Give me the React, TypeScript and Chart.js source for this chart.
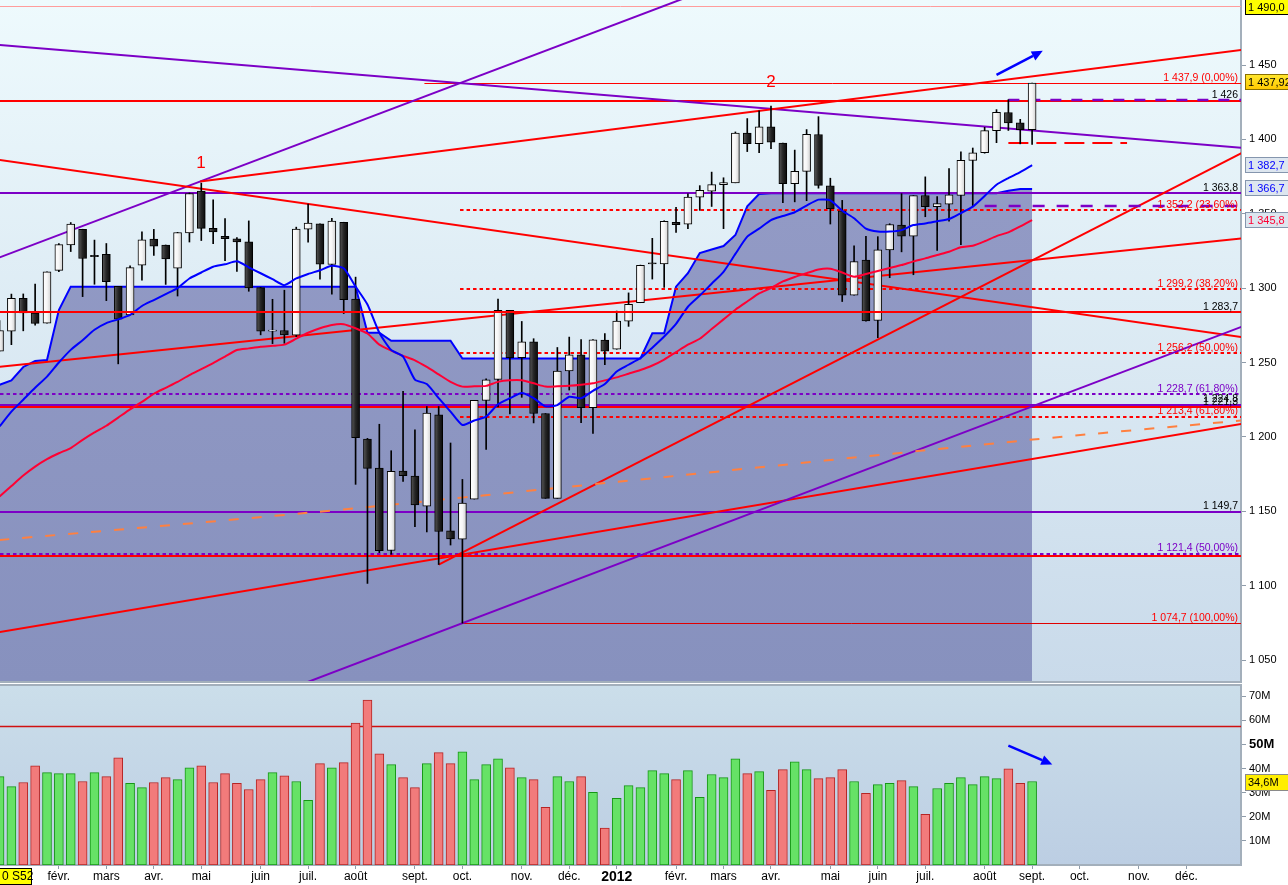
import React, { useEffect, useRef } from 'react';
import { Chart, registerables } from 'chart.js';

Chart.register(...registerables);

const FONT = '"Liberation Sans", Arial, Helvetica, sans-serif';

// Weekly candles: index 0 = week of 3 Jan 2011 ... index 87 = week of 4 Sep 2012
const opens = [1257.6, 1271.0, 1293.2, 1283.3, 1276.5, 1311.9, 1329.0, 1339.6, 1322.0, 1322.7,
  1301.2, 1282.0, 1315.5, 1333.0, 1329.0, 1313.5, 1337.1, 1365.2, 1340.2, 1334.8,
  1333.1, 1331.1, 1300.3, 1271.3, 1271.5, 1268.4, 1339.6, 1343.3, 1315.9, 1344.3,
  1292.6, 1198.5, 1179.0, 1123.6, 1177.0, 1173.6, 1153.5, 1214.9, 1136.9, 1131.2,
  1158.2, 1224.5, 1238.7, 1285.0, 1253.2, 1263.9, 1215.7, 1158.7, 1244.3, 1255.2,
  1219.7, 1265.0, 1258.9, 1277.8, 1290.2, 1317.0, 1316.2, 1344.3, 1343.0, 1361.2,
  1365.2, 1369.6, 1370.8, 1404.2, 1397.1, 1408.5, 1397.5, 1370.3, 1378.5, 1403.3,
  1368.8, 1351.9, 1295.2, 1318.9, 1278.3, 1325.7, 1342.4, 1334.9, 1362.3, 1354.7,
  1356.5, 1362.3, 1385.8, 1391.0, 1405.9, 1418.1, 1411.1, 1406.5];
const highs = [1278.2, 1296.0, 1296.1, 1302.7, 1311.0, 1330.0, 1344.1, 1339.6, 1332.3, 1330.0,
  1301.2, 1315.0, 1337.9, 1339.5, 1329.0, 1337.5, 1364.0, 1370.6, 1359.4, 1346.8,
  1334.0, 1345.2, 1300.6, 1292.5, 1298.6, 1341.0, 1356.5, 1343.3, 1347.0, 1344.3,
  1307.4, 1199.0, 1208.5, 1190.7, 1230.7, 1204.7, 1220.4, 1220.4, 1195.9, 1171.4,
  1224.6, 1239.0, 1292.7, 1285.0, 1277.6, 1266.0, 1215.7, 1260.1, 1267.1, 1265.4,
  1265.4, 1269.4, 1284.6, 1296.8, 1315.5, 1333.5, 1345.3, 1354.3, 1363.4, 1368.9,
  1378.0, 1374.2, 1405.0, 1414.0, 1419.2, 1422.4, 1397.5, 1392.8, 1406.6, 1415.3,
  1373.9, 1359.0, 1328.5, 1334.9, 1334.6, 1343.3, 1363.5, 1362.2, 1374.8, 1361.5,
  1380.4, 1391.7, 1394.2, 1408.1, 1420.0, 1426.7, 1413.5, 1437.9];
const lows = [1257.6, 1262.0, 1271.3, 1275.1, 1276.5, 1311.0, 1324.6, 1294.3, 1302.6, 1291.6,
  1249.1, 1282.0, 1305.3, 1322.0, 1302.5, 1294.7, 1331.0, 1332.0, 1329.9, 1318.5,
  1311.3, 1297.9, 1268.6, 1262.7, 1262.9, 1267.4, 1330.9, 1306.1, 1295.9, 1282.9,
  1168.1, 1101.5, 1122.2, 1121.1, 1170.0, 1139.6, 1136.1, 1114.2, 1127.3, 1074.8,
  1158.2, 1191.5, 1220.2, 1215.4, 1226.6, 1209.4, 1158.7, 1158.7, 1231.5, 1209.5,
  1202.4, 1248.6, 1258.9, 1274.3, 1290.2, 1306.1, 1300.5, 1337.5, 1340.0, 1352.3,
  1354.9, 1340.0, 1370.8, 1391.8, 1391.0, 1393.7, 1357.4, 1358.0, 1358.8, 1367.2,
  1343.1, 1291.0, 1295.2, 1277.8, 1266.7, 1307.0, 1324.4, 1309.0, 1348.0, 1325.4,
  1345.1, 1329.2, 1354.7, 1390.7, 1397.8, 1406.0, 1397.0, 1396.6];
const closes = [1271.5, 1293.2, 1283.4, 1276.3, 1310.9, 1329.2, 1343.0, 1319.9, 1321.2, 1304.3,
  1279.2, 1313.8, 1332.4, 1328.2, 1319.7, 1337.4, 1363.6, 1340.2, 1337.8, 1333.3,
  1331.1, 1300.2, 1271.0, 1271.5, 1268.5, 1339.7, 1343.8, 1316.1, 1345.0, 1292.3,
  1199.4, 1178.8, 1123.5, 1176.8, 1174.0, 1154.2, 1216.0, 1136.4, 1131.4, 1155.5,
  1224.6, 1238.3, 1285.1, 1253.2, 1263.9, 1215.7, 1158.7, 1244.3, 1255.2, 1219.7,
  1265.3, 1257.6, 1277.8, 1289.1, 1315.4, 1316.3, 1344.9, 1342.6, 1361.2, 1365.7,
  1369.6, 1370.9, 1404.2, 1397.1, 1408.5, 1398.1, 1370.3, 1378.5, 1403.4, 1369.1,
  1353.4, 1295.2, 1317.8, 1278.0, 1325.7, 1342.8, 1335.0, 1362.2, 1354.7, 1356.8,
  1362.7, 1386.0, 1391.0, 1405.9, 1418.2, 1411.1, 1406.6, 1437.9];
// weekly volume, millions
const volumesM = [36.6, 32.5, 34.2, 41.1, 38.3, 37.9, 37.9, 34.6, 38.3, 36.6,
  44.4, 33.8, 32.1, 34.2, 36.2, 35.4, 40.3, 41.1, 34.2, 37.9,
  33.8, 31.3, 35.4, 38.3, 37.0, 34.6, 26.8, 42.0, 40.3, 42.4,
  58.8, 68.3, 46.1, 41.6, 36.2, 32.1, 42.0, 46.6, 42.0, 46.9,
  35.4, 41.6, 44.0, 40.3, 36.2, 35.4, 23.9, 36.6, 34.6, 36.6,
  30.1, 15.3, 27.6, 32.9, 32.1, 39.1, 37.9, 35.4, 39.1, 28.0,
  37.5, 36.2, 44.0, 37.9, 38.7, 30.9, 39.5, 42.8, 39.5, 35.8,
  36.2, 39.5, 34.6, 29.7, 33.3, 33.8, 35.0, 32.5, 21.0, 31.7,
  33.8, 36.2, 33.3, 36.6, 35.8, 39.9, 33.8, 34.6];
// stepped blue line with shaded area below it
const blueStep = [1235, 1238, 1247, 1251, 1251.7, 1285.3, 1301, 1301, 1301, 1301,
  1301, 1301, 1301, 1301, 1301, 1301, 1301, 1301, 1301, 1301,
  1301, 1301, 1301, 1301, 1301, 1301, 1301, 1301, 1301, 1301,
  1301, 1270, 1270, 1264.6, 1264.6, 1264.6, 1264.6, 1264.6, 1264.6, 1252.7,
  1252.7, 1252.7, 1252.7, 1252.7, 1252.7, 1252.7, 1252.7, 1252.7, 1252.7, 1252.7,
  1252.7, 1252.7, 1252.7, 1252.7, 1252.7, 1269.7, 1269.7, 1301, 1310, 1323.6,
  1326, 1328.3, 1335.7, 1355, 1363.3, 1363.8, 1363.8, 1363.8, 1363.8, 1363.8,
  1363.8, 1363.8, 1363.8, 1363.8, 1363.8, 1363.8, 1363.8, 1363.8, 1363.8, 1363.8,
  1363.8, 1363.8, 1363.8, 1363.8, 1363.8, 1365.5, 1366.7, 1366.7];
const blueMA = [1207, 1217, 1225, 1233, 1240.5, 1250, 1258.5, 1265, 1272, 1276.5,
  1279, 1282, 1288, 1292, 1296, 1300, 1306.5, 1310.5, 1314.4, 1316,
  1318, 1314, 1310, 1306, 1302, 1306.5, 1309.5, 1312, 1315, 1313.3,
  1301, 1289, 1270, 1258.4, 1254, 1238.5, 1235.5, 1226, 1217, 1208,
  1211, 1213.6, 1222, 1226, 1229.5, 1226, 1220.5, 1221.4, 1227, 1226,
  1231, 1235.5, 1244, 1248.5, 1253, 1260, 1267.5, 1276, 1287.5, 1295,
  1303, 1311, 1323, 1334.6, 1340, 1345.8, 1348.5, 1351, 1355.5, 1359.5,
  1359, 1352, 1347, 1340, 1338, 1338, 1339, 1342.4, 1343.5, 1345,
  1346.5, 1350.5, 1354.8, 1362, 1369.5, 1374, 1378, 1382.7];
const redMA = [1160, 1167, 1174, 1180, 1185, 1189, 1192.5, 1198, 1203, 1207.5,
  1213, 1218.5, 1223.5, 1229, 1233, 1237, 1241.5, 1245.5, 1249.6, 1254,
  1258.4, 1259.5, 1260.6, 1261.2, 1262, 1266, 1270, 1273, 1275.2, 1275.7,
  1273, 1269.5, 1262, 1258, 1254.5, 1251.5, 1247, 1242, 1237, 1233.8,
  1234, 1234.3, 1237, 1238, 1238, 1236, 1233.8, 1234, 1234.3, 1235,
  1236, 1238, 1240, 1242.5, 1245, 1248, 1252, 1257, 1262, 1266,
  1272.5, 1279, 1285.5, 1291, 1296.4, 1300, 1304.5, 1307.5, 1310, 1312.5,
  1313, 1310.5, 1307.7, 1309.5, 1311.5, 1313.5, 1315.5, 1318, 1320, 1322.3,
  1324.5, 1327.5, 1328.5, 1331.5, 1335, 1337.5, 1341.5, 1345.8];
// orange dashed long average (week, value)
const orangeWeeks = [0, 26, 52.3, 86.8, 104.6];
const orangeValues = [1130.7, 1149, 1170, 1198, 1211];

// axis ticks
const priceTicks = [1050, 1100, 1150, 1200, 1250, 1300, 1350, 1400, 1450];
const volumeTicks = [10, 20, 30, 40, 50, 60, 70];
const monthTickWeeks = [5, 9, 13, 17, 22, 26, 30, 35, 39, 44, 48, 52, 57, 61, 65, 70, 74, 78, 83, 87, 91, 96, 100];
const monthTickLabels = ['févr.', 'mars', 'avr.', 'mai', 'juin', 'juil.', 'août', 'sept.', 'oct.', 'nov.', 'déc.', '2012',
  'févr.', 'mars', 'avr.', 'mai', 'juin', 'juil.', 'août', 'sept.', 'oct.', 'nov.', 'déc.'];

// horizontal levels
const levelValues = [1490.0, 1437.9, 1426.0, 1363.8, 1352.2, 1299.2, 1283.7, 1256.2, 1228.7, 1221.6, 1219.9, 1213.4, 1149.7, 1121.4, 1119.9, 1074.7];
const levelTexts = ['', '1 437,9 (0,00%)', '1 426', '1 363,8', '1 352,2 (23,60%)', '1 299,2 (38,20%)', '1 283,7',
  '1 256,2 (50,00%)', '1 228,7 (61,80%)', '1 224,8', '1 221,3', '1 213,4 (61,80%)', '1 149,7', '1 121,4 (50,00%)', '', '1 074,7 (100,00%)'];
const levelStartWeeks = [null, 35.8, null, null, 38.8, 38.8, null, 38.8, null, null, null, 38.8, null, null, null, 39.0];

// trend lines (week, price)
const trendFrom = [[0.04, 1320.8], [0.04, 1463.4], [16.9, 1371.7], [0.04, 1386.1], [0.04, 1247.2], [37, 1114.2], [0.04, 1068.8], [39, 1074.8]];
const trendTo = [[57.3, 1493.7], [104.6, 1394.4], [104.6, 1460.1], [104.6, 1267.1], [104.6, 1333.4], [104.6, 1390.6], [104.6, 1208.7], [104.6, 1273.9]];

// short dashed segments
const shortDashValues = [1426.5, 1355.0, 1397.8];
const shortDashFrom = [85, 83, 85];
const shortDashTo = [104.6, 104.6, 95];

const priceArrowFrom = [84.0, 1443.3];
const priceArrowTo = [87.9, 1459.5];
const volArrowFrom = [85.0, 49.5];
const volArrowTo = [88.7, 41.7];

const peakTexts = ['1', '2'];
const peakWeeks = [16.98, 65];
const peakValues = [1384.1, 1438.6];

const priceBoxValues = [1490.0, 1437.92, 1382.7, 1366.7, 1345.8];
const priceBoxTexts = ['1 490,0', '1 437,92', '1 382,7', '1 366,7', '1 345,8'];
const volumeRefLine = 57.7;
const lastVolumeText = '34,6M';
const cornerText = '0 S52';

// ranges
const X_MIN = 0.04, X_MAX = 104.6;
const P_MIN = 1035.9, P_MAX = 1493.7;
const V_MAX = 74.6;

// styles
const RED = '#ff0000';
const PURPLE = '#7c00c6';
const BLACK = '#000000';
const levelStyles = [
  { color: '#ff9c9c', width: 1, dash: [], text: RED, top: false },
  { color: RED, width: 1, dash: [], text: RED, top: false },
  { color: RED, width: 2, dash: [], text: BLACK, top: false },
  { color: PURPLE, width: 2, dash: [], text: BLACK, top: false },
  { color: RED, width: 2, dash: [3.5, 3], text: RED, top: false },
  { color: RED, width: 2, dash: [3.5, 3], text: RED, top: false },
  { color: RED, width: 2, dash: [], text: BLACK, top: true },
  { color: RED, width: 2, dash: [3.5, 3], text: RED, top: false },
  { color: PURPLE, width: 2, dash: [3.5, 3], text: PURPLE, top: false },
  { color: PURPLE, width: 2, dash: [], text: BLACK, top: false },
  { color: RED, width: 2, dash: [], text: BLACK, top: false },
  { color: RED, width: 2, dash: [3.5, 3], text: RED, top: false },
  { color: PURPLE, width: 2, dash: [], text: BLACK, top: false },
  { color: PURPLE, width: 2, dash: [3.5, 3], text: PURPLE, top: false },
  { color: RED, width: 2, dash: [], text: BLACK, top: false },
  { color: '#e00000', width: 1, dash: [], text: RED, top: false },
];
const trendStyles = [
  { color: PURPLE, ray: false }, { color: PURPLE, ray: false }, { color: RED, ray: true }, { color: RED, ray: false },
  { color: RED, ray: false }, { color: RED, ray: true }, { color: RED, ray: false }, { color: PURPLE, ray: false },
];
const shortDashStyles = [
  { color: PURPLE, width: 2.5, dash: [11, 10] },
  { color: PURPLE, width: 2.5, dash: [12, 12] },
  { color: RED, width: 2, dash: [20, 8] },
];
const priceBoxStyles = [
  { bg: '#ffff00', border: '#000000', color: '#000000' },
  { bg: 'gold', border: '#8a7000', color: '#000000' },
  { bg: '#dde6ef', border: '#8596ae', color: '#0000ff' },
  { bg: '#dde6ef', border: '#8596ae', color: '#0000ff' },
  { bg: '#dde6ef', border: '#8596ae', color: '#ff0033' },
];
const AXIS_LINE = '#a3afbb';

function fmtPrice(v: number) {
  const t = Math.floor(v / 1000);
  const r = Math.round(v - t * 1000);
  return t + ' ' + String(r).padStart(3, '0');
}

function drawArrow(ctx: CanvasRenderingContext2D, x1: number, y1: number, x2: number, y2: number, color: string) {
  const ang = Math.atan2(y2 - y1, x2 - x1);
  const head = 11, hw = 5;
  const bx = x2 - head * Math.cos(ang), by = y2 - head * Math.sin(ang);
  ctx.save();
  ctx.strokeStyle = color;
  ctx.lineWidth = 2.5;
  ctx.beginPath();
  ctx.moveTo(x1, y1);
  ctx.lineTo(bx, by);
  ctx.stroke();
  ctx.fillStyle = color;
  ctx.beginPath();
  ctx.moveTo(x2, y2);
  ctx.lineTo(bx + hw * Math.sin(ang), by - hw * Math.cos(ang));
  ctx.lineTo(bx - hw * Math.sin(ang), by + hw * Math.cos(ang));
  ctx.closePath();
  ctx.fill();
  ctx.restore();
}

function drawBox(ctx: CanvasRenderingContext2D, x: number, yc: number, w: number, h: number, bg: any, border: string, text: string, color: string, font: string) {
  ctx.save();
  const top = Math.round(yc - h / 2) + 0.5;
  ctx.fillStyle = bg;
  ctx.fillRect(x + 0.5, top, w, h);
  ctx.strokeStyle = border;
  ctx.lineWidth = 1;
  ctx.strokeRect(x + 0.5, top, w, h);
  ctx.fillStyle = color;
  ctx.font = font;
  ctx.textAlign = 'left';
  ctx.textBaseline = 'middle';
  ctx.fillText(text, x + 3, top + h / 2 + 0.5);
  ctx.restore();
}

function clipArea(chart: any) {
  const a = chart.chartArea;
  const ctx = chart.ctx;
  ctx.beginPath();
  ctx.rect(a.left, a.top, a.right - a.left, a.bottom - a.top);
  ctx.clip();
}

function drawLevels(chart: any, topLayer: boolean) {
  const ctx = chart.ctx;
  const xs = chart.scales.x, ys = chart.scales.y;
  const a = chart.chartArea;
  ctx.save();
  clipArea(chart);
  levelValues.forEach((v, i) => {
    const st = levelStyles[i];
    if (!!st.top !== topLayer) return;
    const y0 = ys.getPixelForValue(v);
    const y = st.width % 2 === 1 ? Math.round(y0) + 0.5 : Math.round(y0);
    const start = levelStartWeeks[i];
    const xStart = start === null ? a.left : xs.getPixelForValue(start);
    ctx.strokeStyle = st.color;
    ctx.lineWidth = st.width;
    ctx.setLineDash(st.dash);
    ctx.beginPath();
    ctx.moveTo(xStart, y);
    ctx.lineTo(a.right, y);
    ctx.stroke();
  });
  ctx.restore();
}

function drawLevelLabels(chart: any) {
  const ctx = chart.ctx;
  const ys = chart.scales.y;
  const a = chart.chartArea;
  ctx.save();
  ctx.font = '10.5px ' + FONT;
  ctx.textAlign = 'right';
  ctx.textBaseline = 'alphabetic';
  levelValues.forEach((v, i) => {
    const t = levelTexts[i];
    if (!t) return;
    const y = ys.getPixelForValue(v);
    ctx.fillStyle = levelStyles[i].text;
    ctx.fillText(t, a.right - 3, y - 2.5);
  });
  ctx.restore();
}

function drawTrends(chart: any) {
  const ctx = chart.ctx;
  const xs = chart.scales.x, ys = chart.scales.y;
  ctx.save();
  clipArea(chart);
  ctx.lineWidth = 2;
  trendFrom.forEach((p1, i) => {
    const p2 = trendTo[i];
    const st = trendStyles[i];
    const m = (p2[1] - p1[1]) / (p2[0] - p1[0]);
    const xa = st.ray ? p1[0] : X_MIN - 5;
    const xb = X_MAX + 5;
    const ya = p1[1] + m * (xa - p1[0]);
    const yb = p1[1] + m * (xb - p1[0]);
    ctx.strokeStyle = st.color;
    ctx.beginPath();
    ctx.moveTo(xs.getPixelForValue(xa), ys.getPixelForValue(ya));
    ctx.lineTo(xs.getPixelForValue(xb), ys.getPixelForValue(yb));
    ctx.stroke();
  });
  shortDashValues.forEach((v, i) => {
    const st = shortDashStyles[i];
    const y = Math.round(ys.getPixelForValue(v));
    ctx.strokeStyle = st.color;
    ctx.lineWidth = st.width;
    ctx.setLineDash(st.dash);
    ctx.beginPath();
    ctx.moveTo(xs.getPixelForValue(shortDashFrom[i]), y);
    ctx.lineTo(xs.getPixelForValue(shortDashTo[i]), y);
    ctx.stroke();
  });
  ctx.setLineDash([]);
  ctx.restore();
}

const pricePlugin = {
  id: 'priceOverlay',
  beforeDraw(chart: any) {
    const { ctx, chartArea: a } = chart;
    ctx.save();
    const g = ctx.createLinearGradient(0, a.top, 0, a.bottom);
    g.addColorStop(0, '#eefafd');
    g.addColorStop(1, '#c9daea');
    ctx.fillStyle = g;
    ctx.fillRect(a.left, a.top, a.right - a.left, a.bottom - a.top);
    ctx.restore();
  },
  afterDatasetDraw(chart: any, args: any) {
    if (args.index === 0) {
      drawLevels(chart, false);
      drawTrends(chart);
    }
  },
  afterDatasetsDraw(chart: any) {
    const ctx = chart.ctx;
    const xs = chart.scales.x, ys = chart.scales.y;
    drawLevels(chart, true);
    drawLevelLabels(chart);
    ctx.save();
    clipArea(chart);
    drawArrow(ctx, xs.getPixelForValue(priceArrowFrom[0]), ys.getPixelForValue(priceArrowFrom[1]),
      xs.getPixelForValue(priceArrowTo[0]), ys.getPixelForValue(priceArrowTo[1]), '#0000ff');
    ctx.fillStyle = RED;
    ctx.font = '17px ' + FONT;
    ctx.textAlign = 'center';
    ctx.textBaseline = 'middle';
    peakTexts.forEach((t, i) => {
      ctx.fillText(t, xs.getPixelForValue(peakWeeks[i]), ys.getPixelForValue(peakValues[i]));
    });
    ctx.restore();
  },
  afterDraw(chart: any) {
    const ctx = chart.ctx;
    const a = chart.chartArea;
    const ys = chart.scales.y;
    ctx.save();
    ctx.strokeStyle = AXIS_LINE;
    ctx.lineWidth = 2;
    ctx.beginPath();
    ctx.moveTo(a.left, a.bottom + 1);
    ctx.lineTo(a.right + 1, a.bottom + 1);
    ctx.stroke();
    ctx.restore();
    priceBoxValues.forEach((v, i) => {
      const st = priceBoxStyles[i];
      const yc = ys.getPixelForValue(v) - 1;
      let bg: any = st.bg;
      if (st.bg === 'gold') {
        const g = ctx.createLinearGradient(0, yc - 8, 0, yc + 8);
        g.addColorStop(0, '#ffe830');
        g.addColorStop(1, '#ffc800');
        bg = g;
      }
      drawBox(ctx, a.right + 4, Math.max(yc, 6), 50, 15, bg, st.border, priceBoxTexts[i], st.color, '11px ' + FONT);
    });
  },
};

const volumePlugin = {
  id: 'volumeOverlay',
  beforeDraw(chart: any) {
    const { ctx, chartArea: a } = chart;
    ctx.save();
    const g = ctx.createLinearGradient(0, a.top, 0, a.bottom);
    g.addColorStop(0, '#cbdeea');
    g.addColorStop(1, '#bccee3');
    ctx.fillStyle = g;
    ctx.fillRect(a.left, a.top, a.right - a.left, a.bottom - a.top);
    ctx.strokeStyle = AXIS_LINE;
    ctx.lineWidth = 2;
    ctx.beginPath();
    ctx.moveTo(a.left, a.top);
    ctx.lineTo(a.right, a.top);
    ctx.stroke();
    ctx.restore();
  },
  beforeDatasetsDraw(chart: any) {
    const { ctx, chartArea: a } = chart;
    const ys = chart.scales.y;
    const y = Math.round(ys.getPixelForValue(volumeRefLine)) + 0.5;
    ctx.save();
    ctx.strokeStyle = '#d01010';
    ctx.lineWidth = 1.5;
    ctx.beginPath();
    ctx.moveTo(a.left, y);
    ctx.lineTo(a.right, y);
    ctx.stroke();
    ctx.restore();
  },
  afterDatasetsDraw(chart: any) {
    const ctx = chart.ctx;
    const xs = chart.scales.x, ys = chart.scales.y;
    drawArrow(ctx, xs.getPixelForValue(volArrowFrom[0]), ys.getPixelForValue(volArrowFrom[1]),
      xs.getPixelForValue(volArrowTo[0]), ys.getPixelForValue(volArrowTo[1]), '#0000ff');
  },
  afterDraw(chart: any) {
    const ctx = chart.ctx;
    const a = chart.chartArea;
    const ys = chart.scales.y;
    const last = volumesM[volumesM.length - 1];
    drawBox(ctx, a.right + 4, ys.getPixelForValue(last), 46, 16, '#ffee00', '#8a8a8a', lastVolumeText, '#000', '11px ' + FONT);
    drawBox(ctx, -1, a.bottom + 11, 32, 16, '#ffff00', '#000', cornerText, '#000', '12px ' + FONT);
  },
};

export default function App() {
  const priceRef = useRef<HTMLCanvasElement>(null);
  const volRef = useRef<HTMLCanvasElement>(null);

  useEffect(() => {
    Chart.defaults.font.family = FONT;
    Chart.defaults.color = '#000';

    const candleBodies = opens.map((o, i) => {
      const c = closes[i];
      if (Math.abs(o - c) < 0.7) {
        const m = (o + c) / 2;
        return { x: i, y: [m - 0.35, m + 0.35] };
      }
      return { x: i, y: [o, c] };
    });
    const wicks = lows.map((l, i) => ({ x: i, y: [l, highs[i]] }));

    const bodyColor = (c: any) => {
      const i = c.dataIndex;
      const up = i !== undefined && closes[i] > opens[i];
      const plain = up ? '#f4f4f4' : '#1c1c1c';
      const chart = c.chart;
      const xs = chart && chart.scales && chart.scales.x;
      if (!xs || i === undefined) return plain;
      const x = xs.getPixelForValue(i);
      if (!Number.isFinite(x)) return plain;
      const g = chart.ctx.createLinearGradient(x - 4, 0, x + 4, 0);
      if (up) {
        g.addColorStop(0, '#ffffff');
        g.addColorStop(0.5, '#f6f6f6');
        g.addColorStop(1, '#cfcfcf');
      } else {
        g.addColorStop(0, '#5a5a5a');
        g.addColorStop(0.5, '#262626');
        g.addColorStop(1, '#0a0a0a');
      }
      return g;
    };

    const fillGradient = (ctx: any) => {
      const chart = ctx.chart;
      const a = chart.chartArea;
      if (!a || !Number.isFinite(a.top) || !Number.isFinite(a.bottom)) return '#939bc4';
      const g = chart.ctx.createLinearGradient(0, a.top, 0, a.bottom);
      g.addColorStop(0, '#979ec8');
      g.addColorStop(1, '#8791be');
      return g;
    };

    const priceChart = new Chart(priceRef.current as HTMLCanvasElement, {
      type: 'bar',
      data: {
        datasets: [
          {
            type: 'line', data: blueStep.map((v, i) => ({ x: i, y: v })), borderColor: '#0000ff', borderWidth: 2,
            backgroundColor: fillGradient, fill: 'start', pointRadius: 0, tension: 0, order: 10,
          } as any,
          {
            type: 'line', data: orangeWeeks.map((w, i) => ({ x: w, y: orangeValues[i] })), borderColor: '#ff8040',
            borderWidth: 2, borderDash: [10, 13], pointRadius: 0, fill: false, tension: 0.3, order: 9,
          } as any,
          {
            type: 'bar', data: wicks, backgroundColor: '#000', borderWidth: 0, barThickness: 1, grouped: false, order: 8,
          } as any,
          {
            type: 'bar', data: candleBodies, backgroundColor: bodyColor, borderColor: '#000', borderWidth: 1,
            borderSkipped: false, barThickness: 8, grouped: false, order: 7,
          } as any,
          {
            type: 'line', data: redMA.map((v, i) => ({ x: i, y: v })), borderColor: '#ff0033', borderWidth: 2,
            pointRadius: 0, fill: false, tension: 0.2, order: 3,
          } as any,
          {
            type: 'line', data: blueMA.map((v, i) => ({ x: i, y: v })), borderColor: '#0000ff', borderWidth: 2,
            pointRadius: 0, fill: false, tension: 0.2, order: 2,
          } as any,
        ],
      },
      options: {
        responsive: false,
        animation: false,
        events: [],
        layout: { padding: { left: 0, right: 0, top: 0, bottom: 2 } },
        plugins: { legend: { display: false }, tooltip: { enabled: false } },
        scales: {
          x: { type: 'linear', display: false, min: X_MIN, max: X_MAX, offset: false },
          y: {
            type: 'linear', position: 'right', min: P_MIN, max: P_MAX, beginAtZero: false,
            afterBuildTicks: (s: any) => { s.ticks = priceTicks.map((v) => ({ value: v })); },
            afterFit: (s: any) => { s.width = 47; s.paddingTop = 0; s.paddingBottom = 0; },
            ticks: { callback: (v: any) => fmtPrice(Number(v)), color: '#000', font: { size: 11, family: FONT }, padding: 3, autoSkip: false },
            grid: { drawOnChartArea: false, tickLength: 5, color: '#8f9caa' },
            border: { color: AXIS_LINE, width: 2 },
          },
        },
      } as any,
      plugins: [pricePlugin],
    });

    const volColors = volumesM.map((_, i) => (i === 0 ? closes[0] >= opens[0] : closes[i] >= closes[i - 1]));
    const volumeChart = new Chart(volRef.current as HTMLCanvasElement, {
      type: 'bar',
      data: {
        datasets: [
          {
            data: volumesM.map((v, i) => ({ x: i, y: v })),
            backgroundColor: volColors.map((u) => (u ? '#66e266' : '#f27b7b')),
            borderColor: volColors.map((u) => (u ? '#169616' : '#b52525')),
            borderWidth: 1, borderSkipped: false, barThickness: 9, grouped: false,
          } as any,
        ],
      },
      options: {
        responsive: false,
        animation: false,
        events: [],
        layout: { padding: { left: 0, right: 0, top: 2, bottom: 0 } },
        plugins: { legend: { display: false }, tooltip: { enabled: false } },
        scales: {
          x: {
            type: 'linear', min: X_MIN, max: X_MAX, offset: false,
            afterBuildTicks: (s: any) => { s.ticks = monthTickWeeks.map((v) => ({ value: v })); },
            afterFit: (s: any) => { s.height = 20; s.paddingLeft = 0; s.paddingRight = 0; },
            ticks: {
              autoSkip: false, maxRotation: 0, padding: 0, color: '#000',
              callback: (v: any) => { const k = monthTickWeeks.indexOf(Number(v)); return k >= 0 ? monthTickLabels[k] : ''; },
              font: (c: any) => (c.tick && c.tick.value === 52 ? { size: 14, weight: 'bold', family: FONT } : { size: 12, family: FONT }),
            },
            grid: { drawOnChartArea: false, tickLength: 4, color: '#8f9caa', offset: false },
            border: { color: AXIS_LINE, width: 2 },
          },
          y: {
            type: 'linear', position: 'right', min: 0, max: V_MAX, beginAtZero: true,
            afterBuildTicks: (s: any) => { s.ticks = volumeTicks.map((v) => ({ value: v })); },
            afterFit: (s: any) => { s.width = 47; s.paddingTop = 0; s.paddingBottom = 0; },
            ticks: {
              callback: (v: any) => v + 'M', color: '#000', padding: 3, autoSkip: false,
              font: (c: any) => (c.tick && c.tick.value === 50 ? { size: 13, weight: 'bold', family: FONT } : { size: 11, family: FONT }),
            },
            grid: { drawOnChartArea: false, tickLength: 5, color: '#8f9caa' },
            border: { color: AXIS_LINE, width: 2 },
          },
        },
      } as any,
      plugins: [volumePlugin],
    });

    return () => {
      priceChart.destroy();
      volumeChart.destroy();
    };
  }, []);

  return (
    <div style={{ position: 'absolute', left: 0, top: 0, width: 1288, height: 885, background: '#ffffff', overflow: 'hidden' }}>
      <canvas ref={priceRef} width={1288} height={683} style={{ position: 'absolute', left: 0, top: 0, display: 'block' }} />
      <canvas ref={volRef} width={1288} height={202} style={{ position: 'absolute', left: 0, top: 683, display: 'block' }} />
    </div>
  );
}
